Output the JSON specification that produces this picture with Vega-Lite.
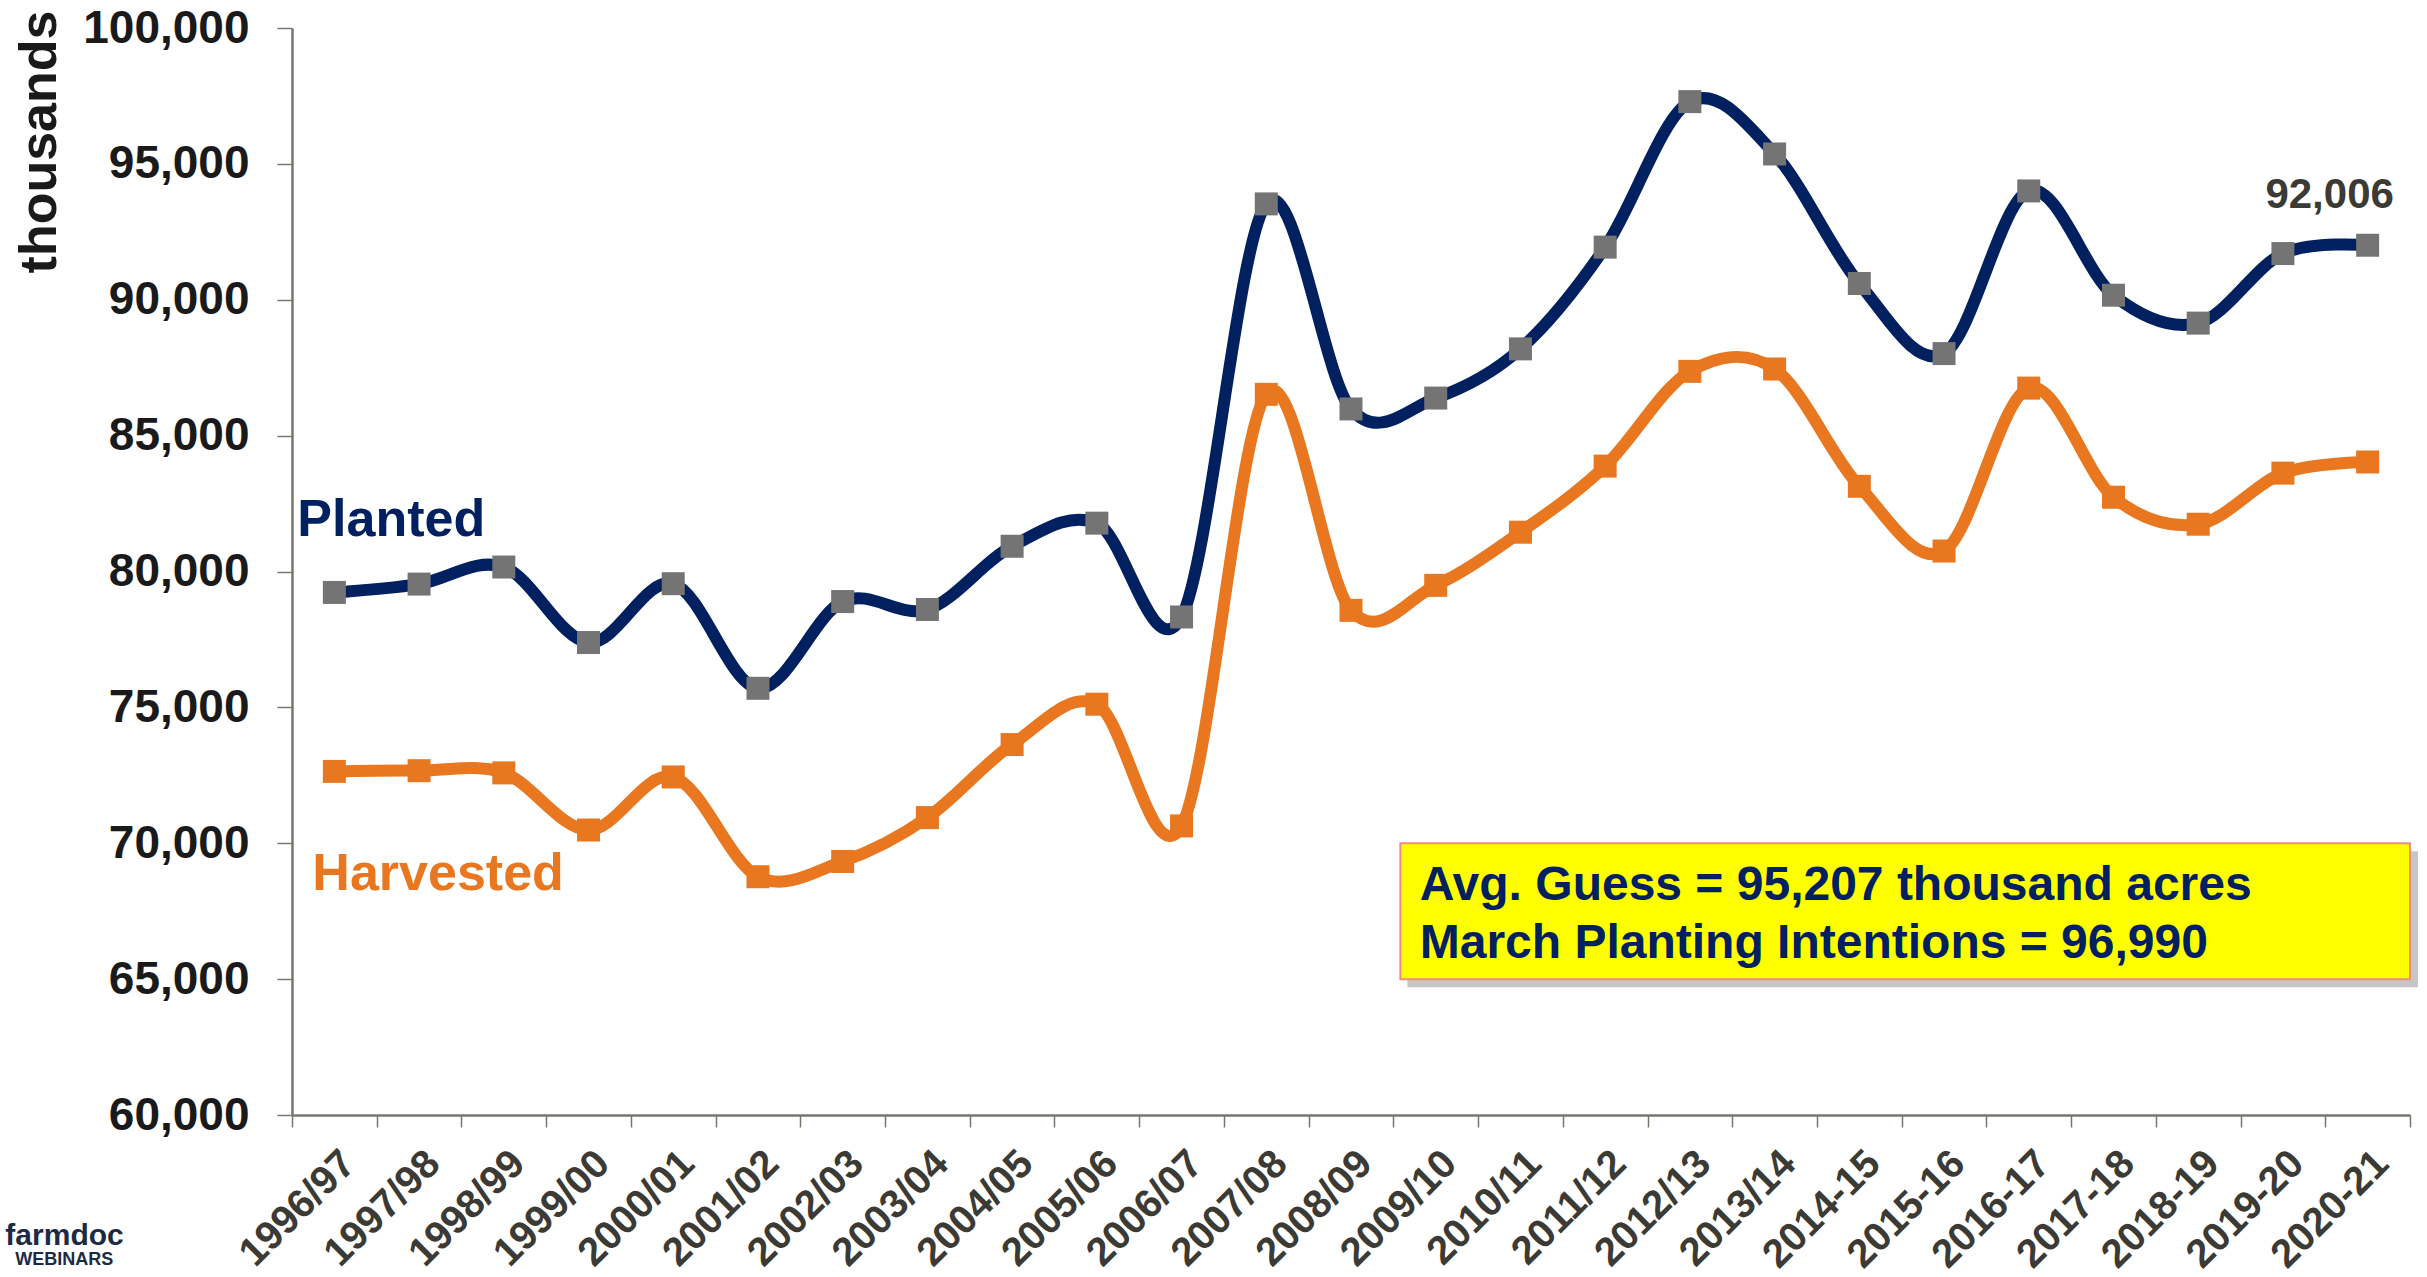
{
  "$schema": "https://vega.github.io/schema/vega-lite/v6.json",
  "width": 2118,
  "height": 1087,
  "autosize": {"type": "none"},
  "padding": {"left": 292, "top": 28, "right": 17, "bottom": 162},
  "background": "white",
  "config": {"view": {"stroke": null}, "font": "Liberation Sans"},
  "datasets": {
    "corn": [
      {"season": "1996/97", "planted": 79229, "harvested": 72644},
      {"season": "1997/98", "planted": 79537, "harvested": 72671},
      {"season": "1998/99", "planted": 80165, "harvested": 72589},
      {"season": "1999/00", "planted": 77386, "harvested": 70487},
      {"season": "2000/01", "planted": 79551, "harvested": 72440},
      {"season": "2001/02", "planted": 75702, "harvested": 68768},
      {"season": "2002/03", "planted": 78894, "harvested": 69330},
      {"season": "2003/04", "planted": 78603, "harvested": 70944},
      {"season": "2004/05", "planted": 80929, "harvested": 73631},
      {"season": "2005/06", "planted": 81779, "harvested": 75117},
      {"season": "2006/07", "planted": 78327, "harvested": 70638},
      {"season": "2007/08", "planted": 93527, "harvested": 86520},
      {"season": "2008/09", "planted": 85982, "harvested": 78570},
      {"season": "2009/10", "planted": 86382, "harvested": 79490},
      {"season": "2010/11", "planted": 88192, "harvested": 81446},
      {"season": "2011/12", "planted": 91936, "harvested": 83879},
      {"season": "2012/13", "planted": 97291, "harvested": 87365},
      {"season": "2013/14", "planted": 95365, "harvested": 87451},
      {"season": "2014-15", "planted": 90597, "harvested": 83136},
      {"season": "2015-16", "planted": 88019, "harvested": 80753},
      {"season": "2016-17", "planted": 94004, "harvested": 86748},
      {"season": "2017-18", "planted": 90167, "harvested": 82733},
      {"season": "2018-19", "planted": 89140, "harvested": 81740},
      {"season": "2019-20", "planted": 91700, "harvested": 83620},
      {"season": "2020-21", "planted": 92006, "harvested": 84030}
    ]
  },
  "layer": [
    {
      "data": {"name": "corn"},
      "mark": {"type": "line", "interpolate": "cardinal", "tension": 0, "strokeWidth": 12, "color": "#002060"},
      "encoding": {
        "x": {
          "field": "season", "type": "nominal", "sort": null,
          "scale": {
            "domain": ["1996/97","1997/98","1998/99","1999/00","2000/01","2001/02","2002/03","2003/04","2004/05","2005/06","2006/07","2007/08","2008/09","2009/10","2010/11","2011/12","2012/13","2013/14","2014-15","2015-16","2016-17","2017-18","2018-19","2019-20","2020-21"],
            "paddingInner": 0, "paddingOuter": 0
          },
          "axis": {
            "title": null, "tickBand": "extent", "labelAngle": -45, "labelAlign": "right", "labelBaseline": "top",
            "labelFontSize": 40, "labelFontWeight": "bold", "labelColor": "#3b3a35", "labelFont": "Liberation Sans",
            "labelPadding": 16, "tickSize": 12, "tickWidth": 1.5, "tickColor": "#77776b",
            "domainColor": "#77776b", "domainWidth": 2.5, "labelOverlap": false, "labelLimit": 0
          }
        },
        "y": {
          "field": "planted", "type": "quantitative",
          "scale": {"domain": [60000, 100000], "nice": false, "zero": false},
          "axis": {
            "title": "thousands", "titleFontSize": 52, "titleFontWeight": "bold", "titleColor": "#1a1a1a",
            "titleFont": "Liberation Sans", "titleAngle": -90, "titleAlign": "right", "titleBaseline": "alphabetic",
            "titleX": -237, "titleY": -18,
            "values": [60000, 65000, 70000, 75000, 80000, 85000, 90000, 95000, 100000],
            "format": ",.0f", "grid": false,
            "labelFontSize": 46, "labelFontWeight": "bold", "labelColor": "#1a1a1a", "labelFont": "Liberation Sans",
            "labelPadding": 28, "tickSize": 15, "tickWidth": 1.5, "tickColor": "#77776b",
            "domainColor": "#77776b", "domainWidth": 2.5
          }
        }
      }
    },
    {
      "data": {"name": "corn"},
      "mark": {"type": "line", "interpolate": "cardinal", "tension": 0, "strokeWidth": 12, "color": "#E8771F"},
      "encoding": {
        "x": {"field": "season", "type": "nominal", "sort": null},
        "y": {"field": "harvested", "type": "quantitative"}
      }
    },
    {
      "data": {"name": "corn"},
      "mark": {"type": "point", "shape": "square", "filled": true, "size": 529, "color": "#747474", "opacity": 1},
      "encoding": {
        "x": {"field": "season", "type": "nominal", "sort": null},
        "y": {"field": "planted", "type": "quantitative"}
      }
    },
    {
      "data": {"name": "corn"},
      "mark": {"type": "point", "shape": "square", "filled": true, "size": 529, "color": "#E8771F", "opacity": 1},
      "encoding": {
        "x": {"field": "season", "type": "nominal", "sort": null},
        "y": {"field": "harvested", "type": "quantitative"}
      }
    },
    {
      "data": {"name": "corn"},
      "transform": [{"filter": "datum.season === '2020-21'"}],
      "mark": {"type": "text", "fontSize": 42, "fontWeight": "bold", "color": "#3b3a35", "align": "center", "baseline": "alphabetic", "dx": -38, "dy": -37},
      "encoding": {
        "x": {"field": "season", "type": "nominal", "sort": null},
        "y": {"field": "planted", "type": "quantitative"},
        "text": {"field": "planted", "type": "quantitative", "format": ",.0f"}
      }
    },
    {
      "data": {"values": [{"label": "Planted"}]},
      "mark": {"type": "text", "fontSize": 52, "fontWeight": "bold", "color": "#002060", "align": "left", "baseline": "alphabetic", "dx": -37},
      "encoding": {
        "x": {"datum": "1996/97"},
        "y": {"datum": 81306},
        "text": {"field": "label"}
      }
    },
    {
      "data": {"values": [{"label": "Harvested"}]},
      "mark": {"type": "text", "fontSize": 52, "fontWeight": "bold", "color": "#E8771F", "align": "left", "baseline": "alphabetic", "dx": -22},
      "encoding": {
        "x": {"datum": "1996/97"},
        "y": {"datum": 68279},
        "text": {"field": "label"}
      }
    },
    {
      "data": {"values": [{"note": "shadow"}]},
      "mark": {"type": "rect", "fill": "#808080", "opacity": 0.45, "xOffset": 14, "x2Offset": 8, "yOffset": 8, "y2Offset": 8},
      "encoding": {
        "x": {"datum": "2009/10", "bandPosition": 0},
        "x2": {"datum": "2020-21", "bandPosition": 1},
        "y": {"datum": 70000},
        "y2": {"datum": 65000}
      }
    },
    {
      "data": {"values": [{"note": "box"}]},
      "mark": {"type": "rect", "fill": "#FFFF00", "stroke": "#F08A8A", "strokeWidth": 2, "xOffset": 7},
      "encoding": {
        "x": {"datum": "2009/10", "bandPosition": 0},
        "x2": {"datum": "2020-21", "bandPosition": 1},
        "y": {"datum": 70000},
        "y2": {"datum": 65000}
      }
    },
    {
      "data": {"values": [{"note": "Avg. Guess = 95,207 thousand acres"}]},
      "mark": {"type": "text", "fontSize": 48, "fontWeight": "bold", "color": "#002060", "align": "left", "baseline": "alphabetic", "dx": -16},
      "encoding": {
        "x": {"datum": "2009/10"},
        "y": {"datum": 67912},
        "text": {"field": "note"}
      }
    },
    {
      "data": {"values": [{"note": "March Planting Intentions = 96,990"}]},
      "mark": {"type": "text", "fontSize": 48, "fontWeight": "bold", "color": "#002060", "align": "left", "baseline": "alphabetic", "dx": -16},
      "encoding": {
        "x": {"datum": "2009/10"},
        "y": {"datum": 65777},
        "text": {"field": "note"}
      }
    },
    {
      "data": {"values": [{"brand": "farmdoc"}]},
      "mark": {"type": "text", "fontSize": 30, "fontWeight": "bold", "color": "#1c2b45", "align": "left", "baseline": "alphabetic", "dx": -329, "dy": 130},
      "encoding": {
        "x": {"datum": "1996/97"},
        "y": {"datum": 60000},
        "text": {"field": "brand"}
      }
    },
    {
      "data": {"values": [{"brand": "WEBINARS"}]},
      "mark": {"type": "text", "fontSize": 18, "fontWeight": "bold", "color": "#1c2b45", "align": "left", "baseline": "alphabetic", "dx": -319, "dy": 150},
      "encoding": {
        "x": {"datum": "1996/97"},
        "y": {"datum": 60000},
        "text": {"field": "brand"}
      }
    }
  ]
}
